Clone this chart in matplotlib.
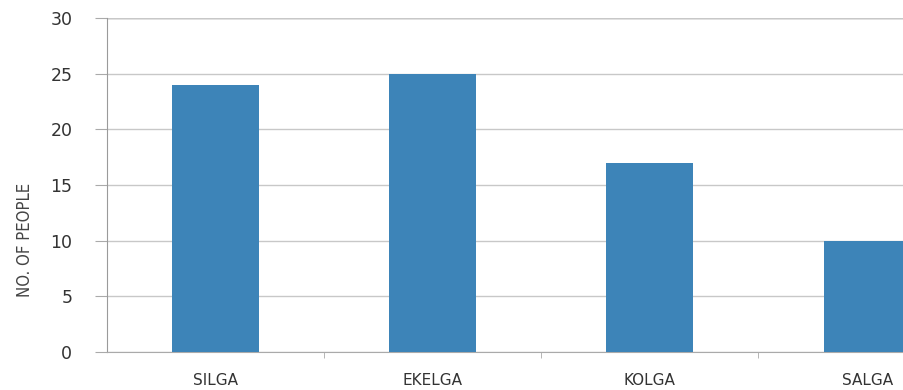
import matplotlib.pyplot as plt

villages = ['SILGA', 'EKELGA', 'KOLGA', 'SALGA']
people = [24, 25, 17, 10]
y_ticks = [0, 5, 10, 15, 20, 25, 30]

fig = plt.figure(figsize=(9.04, 3.9), dpi=100)
ax = fig.add_axes([107 / 904, 38 / 390, 1 - 107 / 904, 334 / 390])

ax.bar(range(len(villages)), people, width=0.4, color='#3d84b8', zorder=3)

ax.set_ylim(0, 30)
ax.set_xlim(-0.5, 3.17)
ax.set_yticks(y_ticks)
ax.yaxis.grid(True, color='#c8c8c8', linewidth=1.0, zorder=0)
ax.axhline(30, color='#8a8a8a', linewidth=1.0, zorder=1)

ax.set_xticks(range(len(villages)))
ax.set_xticklabels(villages, fontsize=11, color='#333333')
ax.set_xticks([0.5, 1.5, 2.5], minor=True)
ax.tick_params(axis='x', which='major', length=0, pad=15)
ax.tick_params(axis='x', which='minor', length=4, color='#aaaaaa', direction='out')
ax.tick_params(axis='y', length=9, color='#aaaaaa', labelsize=12.5,
               labelcolor='#333333', pad=16)

for side in ['top', 'right']:
    ax.spines[side].set_visible(False)
ax.spines['left'].set_color('#9a9a9a')
ax.spines['left'].set_linestyle((0, (1, 1)))
ax.spines['bottom'].set_color('#aaaaaa')

ax.set_ylabel('NO. OF PEOPLE', fontsize=12, fontstretch='condensed',
              color='#444444')
ax.yaxis.set_label_coords(-0.091, 0.335)

fig.savefig('out.png', dpi=100)
